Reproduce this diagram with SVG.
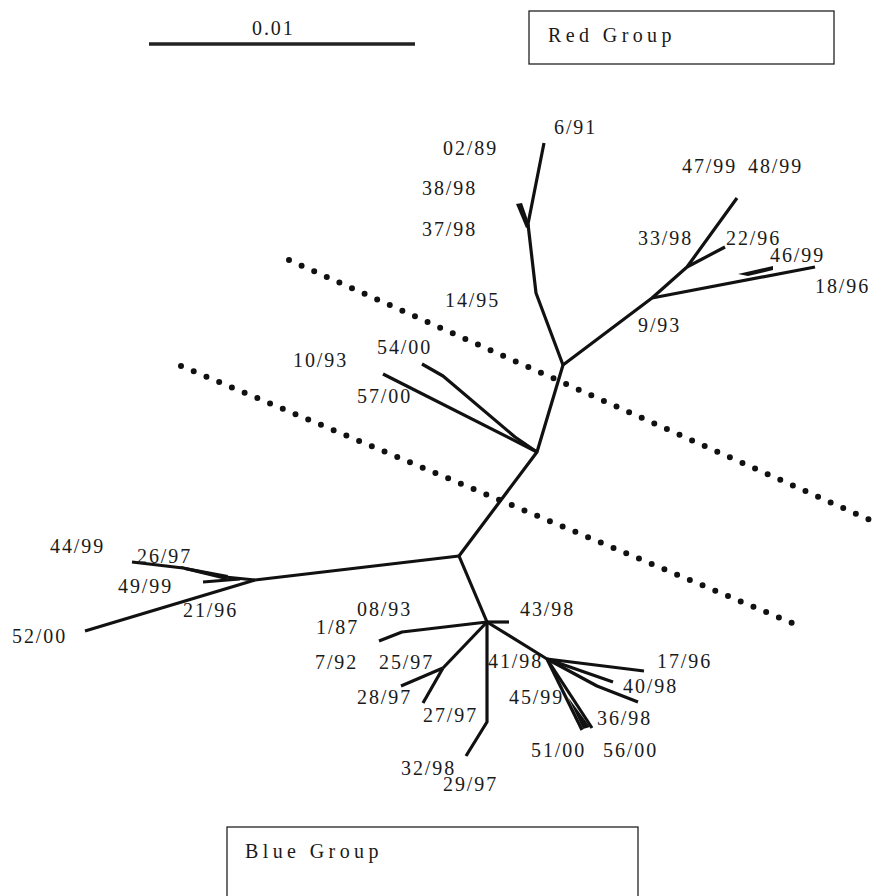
<svg xmlns="http://www.w3.org/2000/svg" width="873" height="896" viewBox="0 0 873 896">
<style>
.lb{font-size:20px;letter-spacing:1.9px;fill:#1a1a1a}
.gt{font-size:20px;letter-spacing:4.4px;fill:#1a1a1a}
.br{fill:none;stroke:#111;stroke-width:3.2;stroke-linecap:butt;stroke-linejoin:round}
.dot{fill:none;stroke:#111;stroke-width:6;stroke-linecap:round;stroke-dasharray:0 13.8}
.box{fill:#fff;stroke:#222;stroke-width:1.3}
</style>
<rect width="873" height="896" fill="#fff"/>
<g font-family="Liberation Serif, Times New Roman, DejaVu Serif, serif">
<g id="scale">
<line x1="149" y1="44" x2="415" y2="44" stroke="#222" stroke-width="3.5"/>
<text class="lb" x="252" y="35">0.01</text>
</g>
<g id="red-group"><rect class="box" x="529" y="11" width="305" height="53"/><text class="gt" x="548" y="42">Red Group</text></g>
<g id="blue-group"><rect class="box" x="227" y="827" width="411" height="80"/><text class="gt" x="245" y="858">Blue Group</text></g>
<g id="dividers">
<line class="dot" x1="289" y1="260" x2="870" y2="520"/>
<line class="dot" x1="181" y1="366" x2="804" y2="628"/>
</g>
<g id="connectors">
<polyline class="br" points="563,365 537,452 459,556"/>
<polyline class="br" points="563,365 536,293 528,224 544,143"/>
<polygon points="516,204 522,203 530,226 526,228" fill="#111"/>
<polyline class="br" points="563,365 652,298 687,267 737,198"/>
<line class="br" x1="687" y1="267" x2="725" y2="247"/>
<line class="br" x1="652" y1="298" x2="815" y2="267"/>
<polygon points="738,274 773,266 773,270 748,276" fill="#111"/>
<line class="br" x1="537" y1="452" x2="383" y2="374"/>
<polyline class="br" points="537,452 515,437 443,376 422,364"/>
<line class="br" x1="459" y1="556" x2="255" y2="580"/>
<line class="br" x1="255" y1="580" x2="85" y2="631"/>
<polyline class="br" points="255,580 225,577 183,568 132,562"/>
<polygon points="180,566 228,575 226,580 185,570" fill="#111"/>
<line class="br" x1="240" y1="579" x2="203" y2="582"/>
<line class="br" x1="459" y1="556" x2="487" y2="622"/>
<line class="br" x1="487" y1="622" x2="509" y2="622"/>
<polyline class="br" points="487,622 402,632 379,641"/>
<line class="br" x1="487" y1="622" x2="443" y2="668"/>
<line class="br" x1="443" y1="668" x2="401" y2="686"/>
<line class="br" x1="443" y1="668" x2="423" y2="703"/>
<polyline class="br" points="487,622 487,722 466,756"/>
<line class="br" x1="487" y1="622" x2="547" y2="659"/>
<line class="br" x1="547" y1="659" x2="644" y2="671"/>
<line class="br" x1="547" y1="659" x2="613" y2="682"/>
<polyline class="br" points="547,659 597,686 638,702"/>
<line class="br" x1="547" y1="659" x2="582" y2="730"/>
<line class="br" x1="547" y1="659" x2="592" y2="728"/>
<polygon points="568,697 583,729 590,727" fill="#111"/>
</g>
<g id="labels">
<g id="t6-91"><text class="lb" x="554" y="134">6/91</text></g>
<g id="t02-89"><text class="lb" x="443" y="155">02/89</text></g>
<g id="t38-98"><text class="lb" x="422" y="195">38/98</text></g>
<g id="t37-98"><text class="lb" x="422" y="236">37/98</text></g>
<g id="t14-95"><text class="lb" x="445" y="307">14/95</text></g>
<g id="t47-99"><text class="lb" x="682" y="173">47/99</text></g>
<g id="t48-99"><text class="lb" x="748" y="173">48/99</text></g>
<g id="t33-98"><text class="lb" x="638" y="245">33/98</text></g>
<g id="t22-96"><text class="lb" x="726" y="245">22/96</text></g>
<g id="t46-99"><text class="lb" x="770" y="262">46/99</text></g>
<g id="t18-96"><text class="lb" x="815" y="293">18/96</text></g>
<g id="t9-93"><text class="lb" x="638" y="332">9/93</text></g>
<g id="t54-00"><text class="lb" x="377" y="354">54/00</text></g>
<g id="t10-93"><text class="lb" x="293" y="367">10/93</text></g>
<g id="t57-00"><text class="lb" x="357" y="403">57/00</text></g>
<g id="t44-99"><text class="lb" x="50" y="553">44/99</text></g>
<g id="t26-97"><text class="lb" x="137" y="563">26/97</text></g>
<g id="t49-99"><text class="lb" x="118" y="593">49/99</text></g>
<g id="t21-96"><text class="lb" x="183" y="617">21/96</text></g>
<g id="t52-00"><text class="lb" x="12" y="643">52/00</text></g>
<g id="t08-93"><text class="lb" x="357" y="616">08/93</text></g>
<g id="t1-87"><text class="lb" x="316" y="634">1/87</text></g>
<g id="t7-92"><text class="lb" x="315" y="669">7/92</text></g>
<g id="t25-97"><text class="lb" x="379" y="669">25/97</text></g>
<g id="t28-97"><text class="lb" x="357" y="704">28/97</text></g>
<g id="t27-97"><text class="lb" x="423" y="722">27/97</text></g>
<g id="t32-98"><text class="lb" x="401" y="775">32/98</text></g>
<g id="t29-97"><text class="lb" x="443" y="791">29/97</text></g>
<g id="t43-98"><text class="lb" x="520" y="616">43/98</text></g>
<g id="t41-98"><text class="lb" x="488" y="668">41/98</text></g>
<g id="t17-96"><text class="lb" x="657" y="668">17/96</text></g>
<g id="t40-98"><text class="lb" x="623" y="693">40/98</text></g>
<g id="t45-99"><text class="lb" x="509" y="704">45/99</text></g>
<g id="t36-98"><text class="lb" x="597" y="725">36/98</text></g>
<g id="t51-00"><text class="lb" x="531" y="757">51/00</text></g>
<g id="t56-00"><text class="lb" x="603" y="757">56/00</text></g>
</g>
</g>
</svg>
